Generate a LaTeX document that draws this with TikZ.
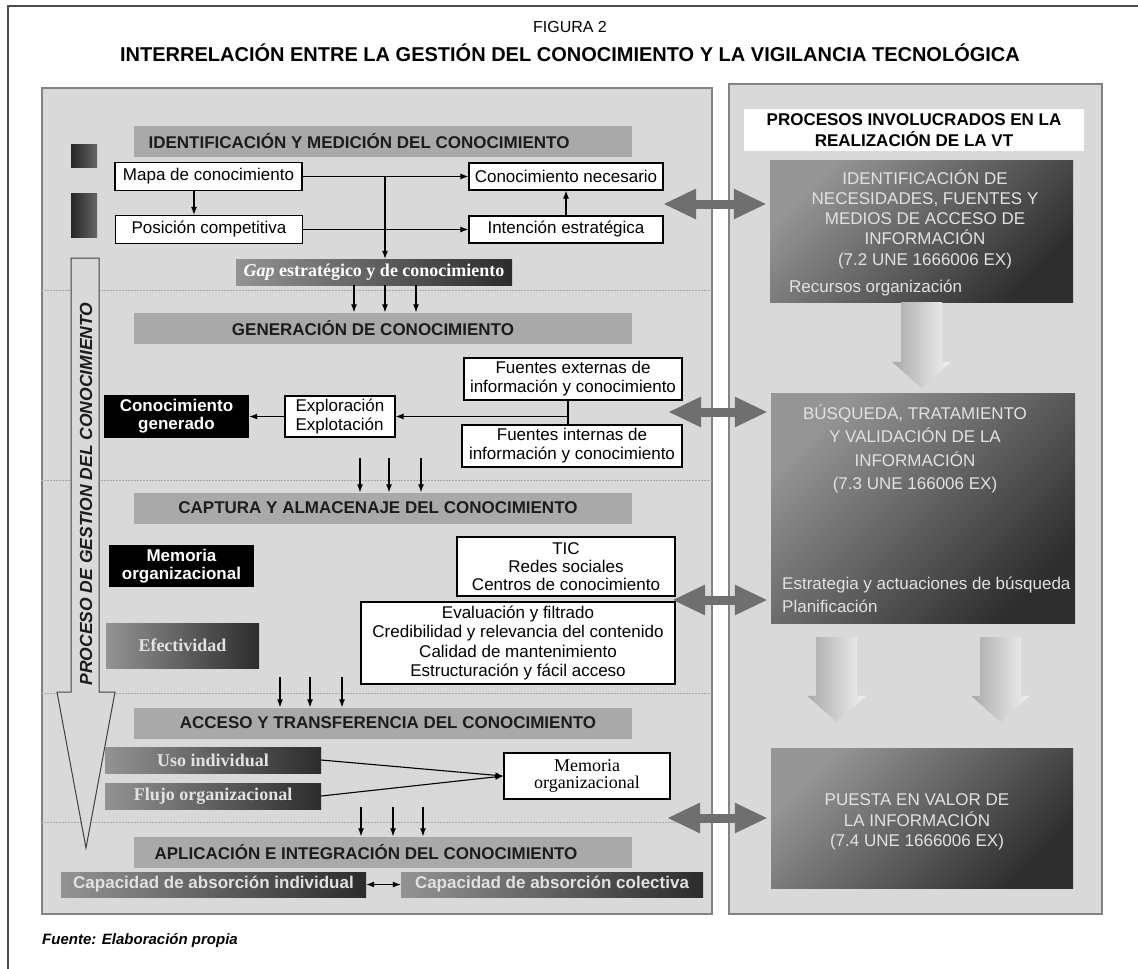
\documentclass[tikz,border=0pt]{standalone}
\usepackage{fontspec}
\setmainfont{Liberation Sans}
\newfontfamily\timesfont{Liberation Serif}
\usetikzlibrary{arrows.meta,calc,positioning}
\definecolor{PanelGray}{HTML}{D9D9D9}
\definecolor{PanelLine}{HTML}{838383}
\definecolor{BarGray}{HTML}{A9A9A9}
\definecolor{InkDark}{HTML}{1C1C1C}
\definecolor{ShadeLight}{HTML}{939393}
\definecolor{ShadeDark}{HTML}{2C2C2C}
\definecolor{VtLight}{HTML}{959595}
\definecolor{VtDark}{HTML}{2E2E2E}
\definecolor{FadeText}{HTML}{E2E2E2}
\definecolor{BigArrow}{HTML}{6F6F6F}
\definecolor{DownL}{HTML}{A9A9A9}
\definecolor{DownR}{HTML}{F2F2F2}
\newcommand{\fsz}[2]{\fontsize{#1}{#2}\selectfont}
% block arrow pointing down: #1 top of shaft, #2 tip
\newcommand{\blockdown}[2]{\path[down] ($(#1)+(-20.5,0)$) -- ($(#1)+(20.5,0)$)
  -- ($(#2)+(20.5,-26)$) -- ($(#2)+(29.5,-26)$) -- (#2)
  -- ($(#2)+(-29.5,-26)$) -- ($(#2)+(-20.5,-26)$) -- cycle;}

\begin{document}
\begin{tikzpicture}[x=1pt,y=-1pt,
    panel/.style={draw=PanelLine,line width=2pt,fill=PanelGray,inner sep=0pt},
    hdr/.style={fill=BarGray,minimum width=498pt,minimum height=31pt,inner sep=0pt},
    hdrtxt/.style={font=\fsz{17}{20}\bfseries,text=InkDark,inner sep=0pt},
    wbox/.style={draw=black,line width=1.2pt,fill=white,inner sep=0pt,align=center,
                 font=\fsz{17}{19}},
    kbox/.style={fill=black,text=white,inner sep=0pt,align=center,font=\fsz{17}{18}\bfseries},
    sbox/.style={left color=ShadeLight,right color=ShadeDark,text=FadeText,inner sep=0pt,
                 align=center,font=\timesfont\fsz{18}{20}\bfseries},
    sq/.style={left color=black!85,right color=black!60,minimum width=26pt,inner sep=0pt},
    vtbox/.style={top color=VtLight,bottom color=VtDark,shading angle=45,inner sep=0pt},
    vttext/.style={text=FadeText,inner sep=0pt,align=center,font=\fsz{17}{20.2}},
    arr/.style={-{Latex[length=8pt,width=6pt]},line width=1.1pt},
    bigarr/.style={{Triangle[length=33pt,width=28pt]}-{Triangle[length=33pt,width=28pt]},
                   line width=9pt,BigArrow},
    sep/.style={draw=black!35,line width=1pt,dash pattern=on 1.5pt off 1.5pt},
    flowarrow/.style={draw=black!75,line width=1pt,fill=PanelGray},
    down/.style={left color=DownL,right color=DownR}]
  \useasboundingbox (0,0) rectangle (1138,969);
  \draw[black!70,line width=1.5pt] (8,969) -- (8,6) -- (1138,6);

  % titles
  \node[font=\fsz{16}{19}] (fig) at (570,27) {FIGURA 2};
  \node[font=\fsz{20}{24}\bfseries] (ttl) at (570,53)
    {INTERRELACIÓN ENTRE LA GESTIÓN DEL CONOCIMIENTO Y LA VIGILANCIA TECNOLÓGICA};

  % panels
  \node[panel,minimum width=670pt,minimum height=826pt] (lp) at (377,501) {};
  \node[panel,minimum width=373pt,minimum height=830pt] (rp) at (915.5,499) {};
  \foreach \y in {290,480,693,822}
    \draw[sep] (lp.west |- 0,\y) -- (lp.east |- 0,\y);

  % process arrow
  \draw[flowarrow] (71,258) -- (99,258) -- (99,692) -- (115,692) -- (86,848)
    -- (57,692) -- (71,692) -- cycle;
  \node[rotate=90,font=\fsz{17.5}{20}\bfseries\itshape,text=InkDark] (proc) at (86,494)
    {PROCESO DE GESTION DEL CONOCIMIENTO};

  % stage bars
  \node[hdr] (h1) at (383,141) {};
  \node[hdrtxt] (h1t) at (359,141) {IDENTIFICACIÓN Y MEDICIÓN DEL CONOCIMIENTO};
  \node[hdr] (h2) at (383,328) {};
  \node[hdrtxt] (h2t) at (373,328) {GENERACIÓN DE CONOCIMIENTO};
  \node[hdr] (h3) at (383,508) {};
  \node[hdrtxt] (h3t) at (378,508) {CAPTURA Y ALMACENAJE DEL CONOCIMIENTO};
  \node[hdr] (h4) at (383,723) {};
  \node[hdrtxt] (h4t) at (388,723) {ACCESO Y TRANSFERENCIA DEL CONOCIMIENTO};
  \node[hdr] (h5) at (383,852) {};
  \node[hdrtxt] (h5t) at (366,852) {APLICACIÓN E INTEGRACIÓN DEL CONOCIMIENTO};

  % identificacion
  \node[sq,minimum height=23pt] (sq1) at (84,155.5) {};
  \node[sq,minimum height=44pt] (sq2) at (84,215) {};
  \node[wbox,minimum width=187pt,minimum height=28pt] (mapa) at (208.5,176.5) {Mapa de conocimiento};
  \node[wbox,minimum width=187pt,minimum height=28pt] (posic) at (209,229.5) {Posición competitiva};
  \node[wbox,minimum width=194pt,minimum height=27pt] (necesario) at (566,176.5) {Conocimiento necesario};
  \node[wbox,minimum width=194pt,minimum height=27pt] (intencion) at (566,229.5) {Intención estratégica};
  \node[sbox,minimum width=276pt,minimum height=26pt,text=white] (gap) at (374,272)
    {\textit{Gap} estratégico y de conocimiento};
  \coordinate (g0) at (385,176.5);
  \draw[arr] (mapa.east) -- (necesario.west);
  \draw[arr] (posic.east) -- (intencion.west);
  \draw[arr] (mapa.south -| 194,0) -- (posic.north -| 194,0);
  \draw[arr] (intencion.north) -- (necesario.south);
  \draw[arr] (g0) -- (g0 |- gap.north);
  \foreach \x in {354,385,416}
    \draw[arr] (gap.south -| \x,0) -- (h2.north -| \x,0);

  % generacion
  \node[wbox,minimum width=218pt,minimum height=42pt] (fext) at (573,379)
    {Fuentes externas de\\información y conocimiento};
  \node[wbox,minimum width=220pt,minimum height=42pt] (fint) at (572,446)
    {Fuentes internas de\\información y conocimiento};
  \node[wbox,align=left,minimum width=110pt,minimum height=41pt] (explo) at (340,416.5)
    {Exploración\\Explotación};
  \node[kbox,minimum width=145pt,minimum height=43pt] (cgen) at (176.5,416.5) {Conocimiento\\generado};
  \coordinate (fj) at (568,416.5);
  \draw[line width=1.1pt] (fext.south -| fj) -- (fint.north -| fj);
  \draw[arr] (fj) -- (explo.east);
  \draw[arr] (explo.west) -- (cgen.east);
  \coordinate (a2) at (0,458);
  \foreach \x in {360,389,421}
    \draw[arr] (a2 -| \x,0) -- (h3.north -| \x,0);

  % captura
  \node[kbox,minimum width=145pt,minimum height=42pt] (memk) at (181.5,566) {Memoria\\organizacional};
  \node[wbox,minimum width=218pt,minimum height=59pt,font=\fsz{17}{18}] (tic) at (566,566.5)
    {TIC\\Redes sociales\\Centros de conocimiento};
  \node[wbox,minimum width=314pt,minimum height=82pt,font=\fsz{17}{19.5}] (eval) at (518,643)
    {Evaluación y filtrado\\Credibilidad y relevancia del contenido\\Calidad de mantenimiento\\Estructuración y fácil acceso};
  \node[sbox,minimum width=153pt,minimum height=45pt] (efect) at (182.5,645.5) {Efectividad};
  \coordinate (a3) at (0,677);
  \foreach \x in {280,310,342}
    \draw[arr] (a3 -| \x,0) -- (h4.north -| \x,0);

  % acceso
  \node[sbox,minimum width=216pt,minimum height=26pt] (uso) at (213,760) {Uso individual};
  \node[sbox,minimum width=216pt,minimum height=26pt] (flujo) at (213,796) {Flujo organizacional};
  \node[wbox,minimum width=166pt,minimum height=46pt,font=\timesfont\fsz{18}{17}] (memw) at (587,776)
    {Memoria\\organizacional};
  \draw[arr] (uso.east) -- (memw.west);
  \draw[arr] (flujo.east) -- (memw.west);
  \coordinate (a4) at (0,807);
  \foreach \x in {361,393,423}
    \draw[arr] (a4 -| \x,0) -- (h5.north -| \x,0);

  % aplicacion
  \node[sbox,minimum width=305pt,minimum height=25pt,font=\fsz{17}{20}\bfseries] (capi) at (213.5,884.5)
    {Capacidad de absorción individual};
  \node[sbox,minimum width=302pt,minimum height=25pt,font=\fsz{17}{20}\bfseries] (capc) at (552,884.5)
    {Capacidad de absorción colectiva};
  \draw[{Latex[length=8pt,width=6pt]}-{Latex[length=8pt,width=6pt]},line width=1.1pt]
    (capi.east) -- (capc.west);

  % vigilancia tecnologica
  \node[fill=white,inner sep=0pt,minimum width=340pt,minimum height=42pt,align=center,
        font=\fsz{17}{21}\bfseries] (vth) at (914,130) {PROCESOS INVOLUCRADOS EN LA\\REALIZACIÓN DE LA VT};
  \node[vtbox,minimum width=303pt,minimum height=142pt] (vt1) at (921.5,231) {};
  \node[vttext] (vt1t) at (925,219)
    {IDENTIFICACIÓN DE\\NECESIDADES, FUENTES Y\\MEDIOS DE ACCESO DE\\INFORMACIÓN\\(7.2 UNE 1666006 EX)};
  \node[vttext,anchor=west] (vt1r) at (789,288) {Recursos organización};
  \node[vtbox,minimum width=304pt,minimum height=230pt] (vt2) at (923,508) {};
  \node[vttext,font=\fsz{17}{23.3}] (vt2t) at (915,449)
    {BÚSQUEDA, TRATAMIENTO\\Y VALIDACIÓN DE LA\\INFORMACIÓN\\(7.3 UNE 166006 EX)};
  \node[vttext,anchor=west,align=left,font=\fsz{17}{23}] (vt2r) at (782,595)
    {Estrategia y actuaciones de búsqueda\\Planificación};
  \node[vtbox,minimum width=302pt,minimum height=140pt] (vt3) at (922,818) {};
  \node[vttext,font=\fsz{17}{20.5}] (vt3t) at (917,822)
    {PUESTA EN VALOR DE\\LA INFORMACIÓN\\(7.4 UNE 1666006 EX)};

  \coordinate (d1t) at (vt1.south);
  \coordinate (d1b) at ($(d1t |- vt2.north)+(0,-5)$);
  \coordinate (d2t) at ($(vt2.south)+(-86.5,14)$);
  \coordinate (d2b) at ($(d2t |- vt3.north)+(0,-26)$);
  \coordinate (d3t) at ($(vt2.south)+(77.5,14)$);
  \coordinate (d3b) at ($(d3t |- vt3.north)+(0,-26)$);
  \blockdown{d1t}{d1b}
  \blockdown{d2t}{d2b}
  \blockdown{d3t}{d3b}

  \coordinate (da1) at (663,204);
  \coordinate (da2) at (668,412);
  \coordinate (da3) at (672,600);
  \coordinate (da4) at (667,818);
  \draw[bigarr] (da1) -- ($(vt1.west |- da1)+(-3,0)$);
  \draw[bigarr] (da2) -- ($(vt2.west |- da2)+(-3,0)$);
  \draw[bigarr] (da3) -- ($(vt2.west |- da3)+(-3,0)$);
  \draw[bigarr] (da4) -- ($(vt3.west |- da4)+(-3,0)$);

  \node[font=\fsz{15}{18}\bfseries\itshape,anchor=west,inner sep=0pt] (fuente) at (42,941)
    {Fuente: Elaboración propia};
\end{tikzpicture}
\end{document}
